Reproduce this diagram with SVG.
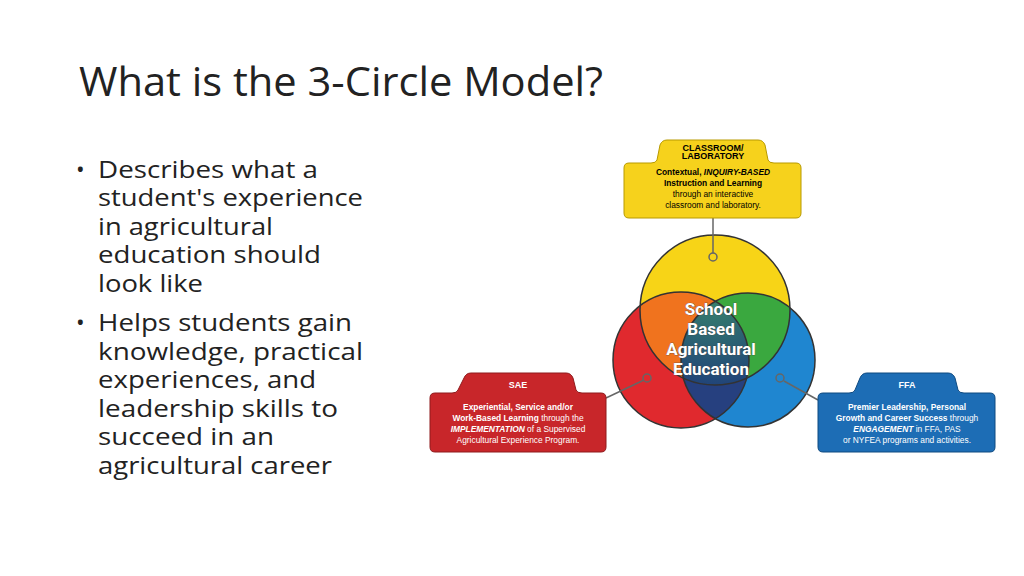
<svg xmlns="http://www.w3.org/2000/svg" width="1024" height="576" viewBox="0 0 1024 576">
<style>
.t{font-family:"Open Sans","Liberation Sans",sans-serif;fill:#222}
.b{font-family:"Open Sans","Liberation Sans",sans-serif;font-size:23px;fill:#222}
.h{font-family:"Liberation Sans",Arial,sans-serif;font-weight:bold;font-size:9px;text-anchor:middle}
.s{font-family:"Liberation Sans",Arial,sans-serif;font-size:8.4px;text-anchor:middle}
.c{font-family:"Roboto","Liberation Sans",Arial,sans-serif;font-weight:bold;font-size:17px;fill:#fff;text-anchor:middle;stroke:#444;stroke-width:0.6;paint-order:stroke}
.ln{stroke:#666;stroke-width:1.5;fill:none}
.dot{fill:none;stroke:#666;stroke-width:1.5}
</style>
<defs>
<clipPath id="cy"><circle cx="715" cy="310" r="75"/></clipPath>
<clipPath id="cr"><circle cx="681" cy="360" r="68"/></clipPath>
<clipPath id="cb"><circle cx="748" cy="360" r="67"/></clipPath>
<radialGradient id="gc" cx="0.5" cy="0.35" r="0.7"><stop offset="0" stop-color="#3a8a6a"/><stop offset="1" stop-color="#1f3f7a"/></radialGradient>
</defs>
<rect width="1024" height="576" fill="#fff"/>
<text class="t" x="79" y="96" font-size="40" textLength="524" lengthAdjust="spacingAndGlyphs">What is the 3-Circle Model?</text>
<g id="bullets">
<text class="b" x="76" y="178">•</text>
<text class="b" x="98" y="178" textLength="220" lengthAdjust="spacingAndGlyphs">Describes what a</text>
<text class="b" x="98" y="206" textLength="265" lengthAdjust="spacingAndGlyphs">student's experience</text>
<text class="b" x="98" y="235" textLength="175" lengthAdjust="spacingAndGlyphs">in agricultural</text>
<text class="b" x="98" y="263" textLength="223" lengthAdjust="spacingAndGlyphs">education should</text>
<text class="b" x="98" y="292" textLength="105" lengthAdjust="spacingAndGlyphs">look like</text>
<text class="b" x="76" y="331">•</text>
<text class="b" x="98" y="331" textLength="254" lengthAdjust="spacingAndGlyphs">Helps students gain</text>
<text class="b" x="98" y="360" textLength="265" lengthAdjust="spacingAndGlyphs">knowledge, practical</text>
<text class="b" x="98" y="388" textLength="218" lengthAdjust="spacingAndGlyphs">experiences, and</text>
<text class="b" x="98" y="417" textLength="240" lengthAdjust="spacingAndGlyphs">leadership skills to</text>
<text class="b" x="98" y="445" textLength="176" lengthAdjust="spacingAndGlyphs">succeed in an</text>
<text class="b" x="98" y="474" textLength="234" lengthAdjust="spacingAndGlyphs">agricultural career</text>
</g>
<g id="circles">
<circle cx="715" cy="310" r="75" fill="#f7d417"/>
<circle cx="681" cy="360" r="68" fill="#e0292e"/>
<circle cx="748" cy="360" r="67" fill="#1f86d0"/>
<g clip-path="url(#cy)"><circle cx="681" cy="360" r="68" fill="#f0731e"/></g>
<g clip-path="url(#cy)"><circle cx="748" cy="360" r="67" fill="#3aa83f"/></g>
<g clip-path="url(#cr)"><circle cx="748" cy="360" r="67" fill="#26407f"/></g>
<g clip-path="url(#cr)"><g clip-path="url(#cb)"><circle cx="715" cy="310" r="75" fill="url(#gc)"/></g></g>
<circle cx="715" cy="310" r="75" fill="none" stroke="#333" stroke-width="1.5"/>
<circle cx="681" cy="360" r="68" fill="none" stroke="#333" stroke-width="1.5"/>
<circle cx="748" cy="360" r="67" fill="none" stroke="#333" stroke-width="1.5"/>
<text class="c" x="711" y="315">School</text>
<text class="c" x="711" y="335">Based</text>
<text class="c" x="711" y="355">Agricultural</text>
<text class="c" x="711" y="375">Education</text>
</g>
<g id="connectors">
<path class="ln" d="M713 218 V253"/><circle class="dot" cx="713" cy="257" r="4"/>
<path class="ln" d="M606 398 L644 380"/><circle class="dot" cx="647" cy="378" r="4"/>
<path class="ln" d="M818 400 L784 381"/><circle class="dot" cx="780" cy="378" r="4"/>
</g>
<g id="classroom">
<path d="M660 145 Q662 140 667 140 H758 Q763 140 765 145 L768 160 Q769 163 774 163 H796 Q801 163 801 168 V213 Q801 218 796 218 H629 Q624 218 624 213 V168 Q624 163 629 163 H651 Q656 163 657 160 Z" fill="#f6d21c" stroke="#b89a00" stroke-width="1"/>
<text class="h" x="713" y="151">CLASSROOM/</text>
<text class="h" x="713" y="159">LABORATORY</text>
<text class="s" x="713" y="175" font-weight="bold">Contextual, <tspan font-style="italic">INQUIRY-BASED</tspan></text>
<text class="s" x="713" y="186" font-weight="bold">Instruction and Learning</text>
<text class="s" x="713" y="197">through an interactive</text>
<text class="s" x="713" y="208">classroom and laboratory.</text>
</g>
<g id="sae">
<path d="M464 378 Q466 373 471 373 H566 Q571 373 573 378 L576 390 Q577 393 582 393 H601 Q606 393 606 398 V447 Q606 452 601 452 H435 Q430 452 430 447 V398 Q430 393 435 393 H452 Q457 393 458 390 Z" fill="#c8262a" stroke="#8f1a1c" stroke-width="1"/>
<text class="h" x="518" y="388" fill="#fff">SAE</text>
<text class="s" x="518" y="410" fill="#fff" font-weight="bold">Experiential, Service and/or</text>
<text class="s" x="518" y="421" fill="#fff"><tspan font-weight="bold">Work-Based Learning</tspan> through the</text>
<text class="s" x="518" y="432" fill="#fff"><tspan font-weight="bold" font-style="italic">IMPLEMENTATION</tspan> of a Supervised</text>
<text class="s" x="518" y="443" fill="#fff">Agricultural Experience Program.</text>
</g>
<g id="ffa">
<path d="M860 378 Q862 373 867 373 H948 Q953 373 955 378 L958 390 Q959 393 964 393 H990 Q995 393 995 398 V447 Q995 452 990 452 H823 Q818 452 818 447 V398 Q818 393 823 393 H849 Q854 393 855 390 Z" fill="#1d6db5" stroke="#0f4a80" stroke-width="1"/>
<text class="h" x="907" y="388" fill="#fff">FFA</text>
<text class="s" x="907" y="410" fill="#fff" font-weight="bold">Premier Leadership, Personal</text>
<text class="s" x="907" y="421" fill="#fff"><tspan font-weight="bold">Growth and Career Success</tspan> through</text>
<text class="s" x="907" y="432" fill="#fff"><tspan font-weight="bold" font-style="italic">ENGAGEMENT</tspan> in FFA, PAS</text>
<text class="s" x="907" y="443" fill="#fff">or NYFEA programs and activities.</text>
</g>
</svg>
